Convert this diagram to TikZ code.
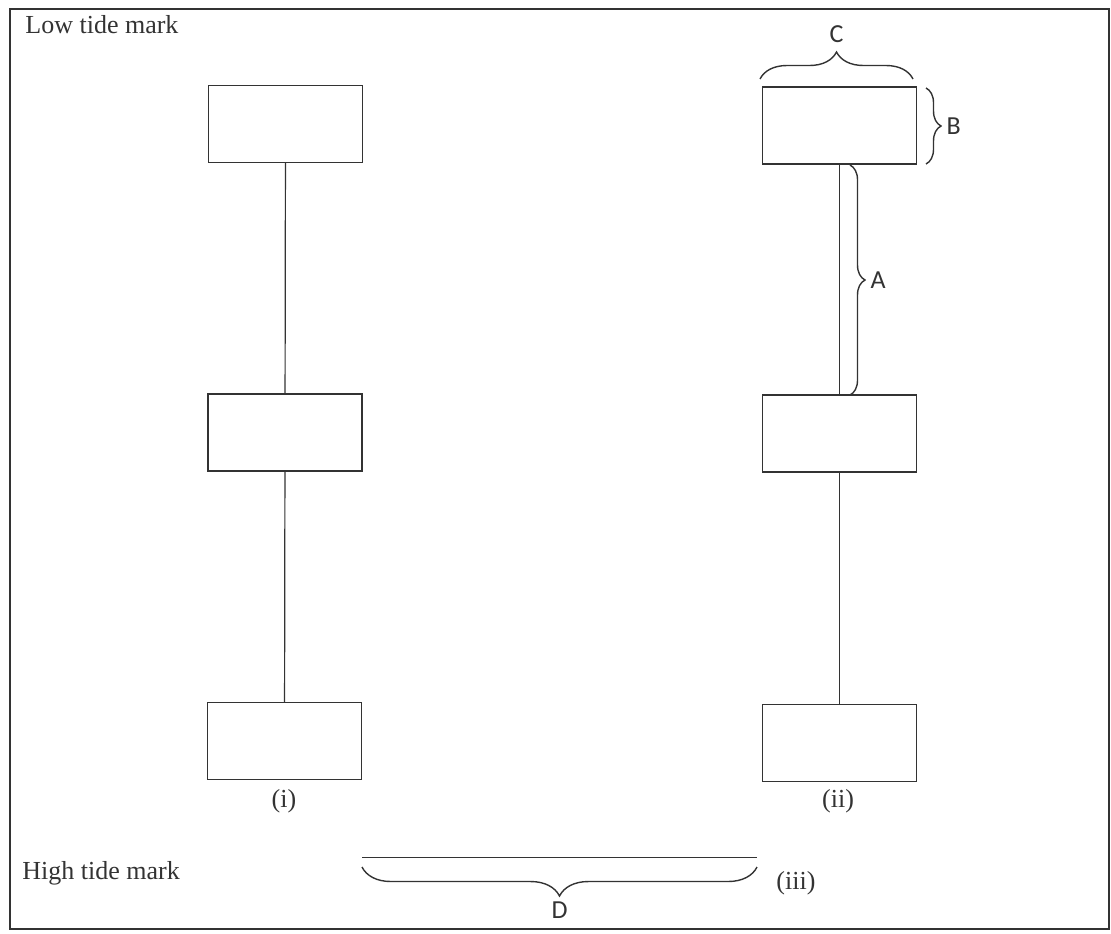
\documentclass[tikz,border=0pt]{standalone}
\usepackage{fontspec}
\setmainfont{Liberation Serif}
\newfontfamily\bracefont{Carlito}
\usepackage{tikz}
\usetikzlibrary{positioning}
\usetikzlibrary{decorations.pathreplacing}
\tikzset{x=0.5pt, y=-0.5pt,
float/.style={ % Sets the properties for each float
rectangle, draw, line width=0.7pt,
minimum width=77pt, minimum height=38.5pt,
inner sep=0pt, outer sep=0pt},
rope/.style={draw, line width=0.6pt},
measure/.style={ % Braces for the dimensions
draw, line width=0.7pt,
decorate, decoration={brace, amplitude=7.5pt}},
letter/.style={font=\bracefont\fontsize{13}{15}\selectfont, inner sep=1pt},
caption/.style={font=\fontsize{13}{15}\selectfont, inner sep=0pt}}

\begin{document}
\begin{tikzpicture}[black!80]
\useasboundingbox (0,0) rectangle (1111,933);
\draw[line width=0.9pt] (10,9) rectangle (1109,929);
\node[caption, anchor=west] (low) at (25,25) {Low tide mark};
\node[caption, anchor=west] (high) at (22,873) {High tide mark};
% column (i)
\node[float] (f1) at (285.5,124) {};
\node[float] (f2) at (285,432.5) {};
\node[float] (f3) at (284.5,741) {};
\draw[rope] (f1) -- (f2) ;
\draw[rope] (f2) -- (f3) ;
\node[caption] (i) at (284,801) {(i)};
% column (ii)
\node[float] (g1) at (839.5,125.5) {};
\node[float] (g2) at (839.5,433.5) {};
\node[float] (g3) at (839.5,743) {};
\draw[rope] (g1) -- (g2) ;
\draw[rope] (g2) -- (g3) ;
\node[caption] (ii) at (838,801) {(ii)};
% dimensions
\draw[measure, decoration={amplitude=13.5pt}] (760,79) -- node[letter, above=17pt] (c) {C} (913,79);
\draw[measure] (926,88) -- node[letter, right=9pt] (b) {B} (926,164);
\draw[measure] (850,165) -- node[letter, right=9pt] (a) {A} (850,395);
% (iii)
\coordinate (s1) at (362,857);
\coordinate (s2) at (757,857);
\draw[rope, line width=0.5pt] (s1) -- (s2);
\draw[measure, decoration={mirror, amplitude=14.5pt}] (362,867) -- node[letter, below=16pt] (d) {D} (757,867);
\node[caption, anchor=west] (iii) at (776,883) {(iii)};
\end{tikzpicture}
\end{document}
